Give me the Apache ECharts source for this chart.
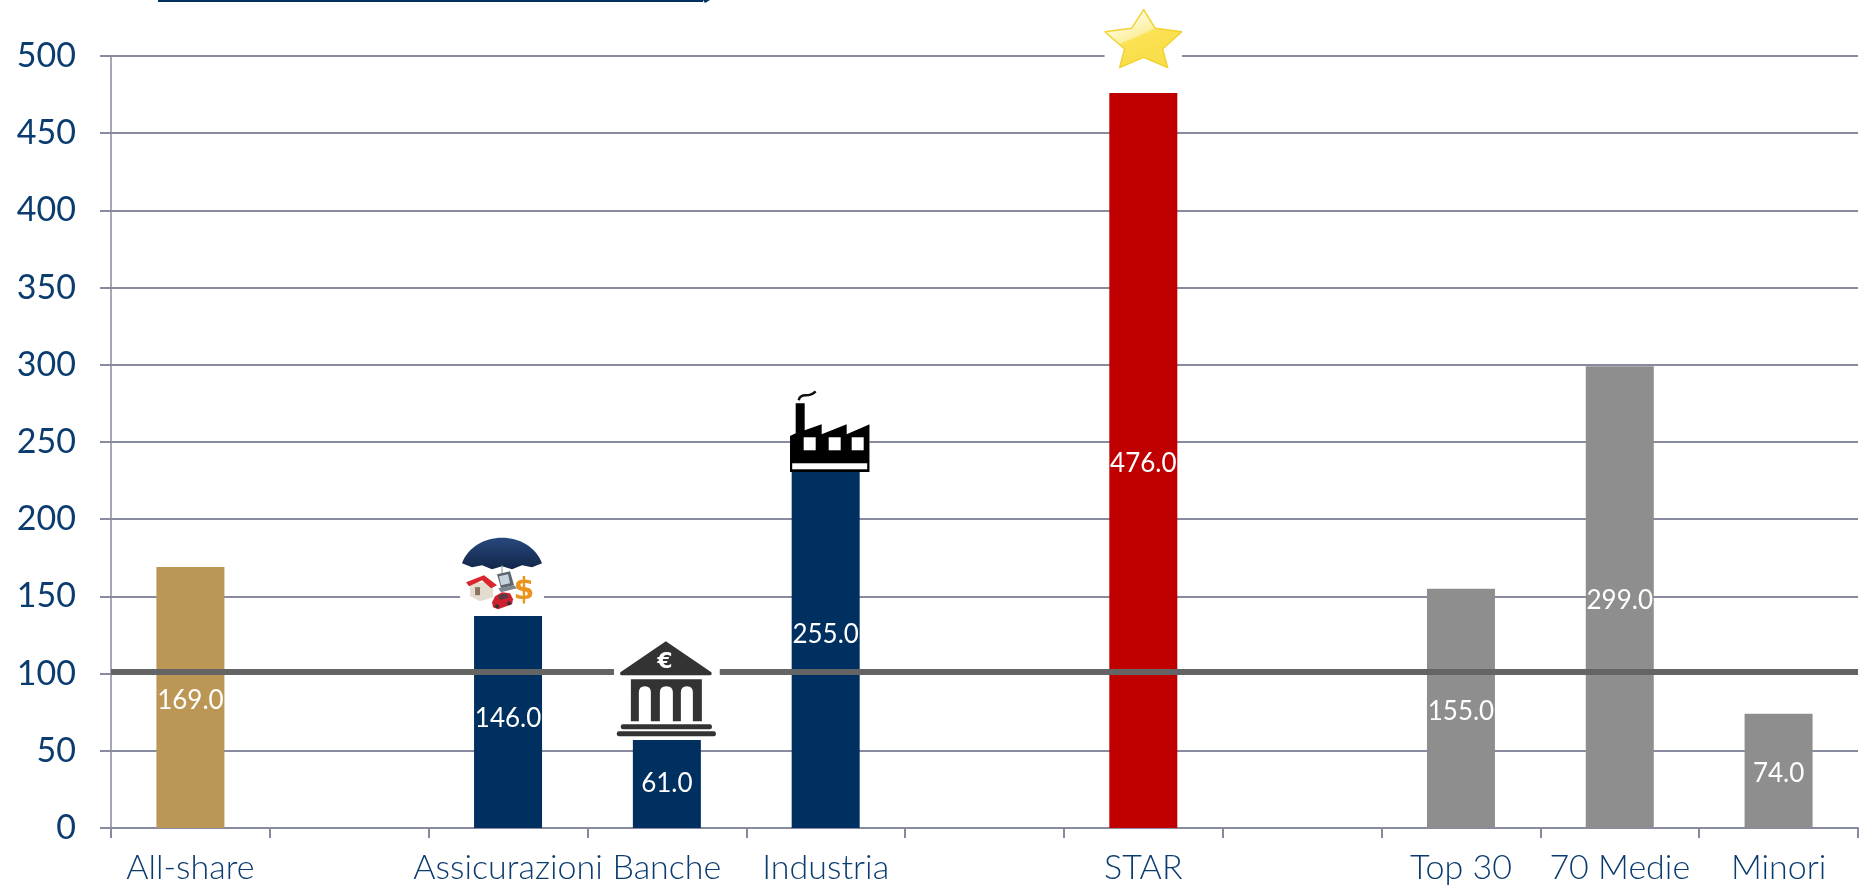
<!DOCTYPE html>
<html>
<head>
<meta charset="utf-8">
<title>Indici</title>
<style>
  html, body { margin: 0; padding: 0; background: #fff; }
  #chart { width: 1860px; height: 885px; }
</style>
<script src="https://cdn.jsdelivr.net/npm/echarts@6/dist/echarts.min.js"></script>
</head>
<body>
<div id="chart"></div>
<script>
// dati
var categories = ['All-share', '', 'Assicurazioni', 'Banche', 'Industria', '', 'STAR', '', 'Top 30', '70 Medie', 'Minori'];
var values = [169, null, 146, 61, 255, null, 476, null, 155, 299, 74];
var referenceLevel = [101];
var yTicks = { min: 0, max: 500, step: 50 };

var barColors = ['#BB9655', null, '#00305F', '#00305F', '#00305F', null, '#C00000', null, '#8E8E8E', '#8E8E8E', '#8E8E8E'];
var labelColor = '#0B3C6F';
var gridColor = '#888BA0';
var fontName = 'Lato';

function svgIcon(w, h, body) {
  var svg = '<svg xmlns="http://www.w3.org/2000/svg" width="' + w + '" height="' + h + '" viewBox="0 0 ' + w + ' ' + h + '">' +
    '<rect width="' + w + '" height="' + h + '" fill="#fff"/>' + body + '</svg>';
  return 'image://data:image/svg+xml;charset=utf-8,' + encodeURIComponent(svg);
}

var umbrella = svgIcon(84, 86,
  '<defs><linearGradient id="u" x1="0" y1="0" x2="0" y2="1"><stop offset="0" stop-color="#27497c"/><stop offset="1" stop-color="#12264a"/></linearGradient></defs>' +
  '<path d="M2 33C8 17 24 7.5 42 7.5S76 17 82 33L72 37 62 35 52 39 42 36 32 39 22 35 12 37Z" fill="url(#u)"/>' +
  '<path d="M42 35V46" stroke="#8a8f98" stroke-width="1"/>' +
  '<path d="M37 44l13-3 4 14-13 3Z" fill="#5d6670"/><path d="M39 46l9-2 2 9-9 2Z" fill="#c7d3dc"/><path d="M38 58l16-3 3 3-16 4Z" fill="#7d8790"/>' +
  '<path d="M10 52H33V67L20 71 10 66Z" fill="#e4dccf"/><path d="M6 52L24 45 37 55 31 58 22 50 9 56Z" fill="#d8262c"/><rect x="15" y="57" width="5" height="8" fill="#8a7460"/>' +
  '<path d="M32 72L35 66 42 62 50 63 53 69 52 74 38 79 33 77Z" fill="#cf2030"/><path d="M38 65l8-2 3 4-9 3Z" fill="#5b3a44"/>' +
  '<circle cx="37" cy="76" r="2" fill="#333"/><circle cx="49" cy="73" r="2" fill="#333"/>' +
  '<text x="64" y="69" text-anchor="middle" font-family="DejaVu Sans" font-weight="bold" font-size="30" fill="#E8941E">$</text>');

var bank = svgIcon(106, 100,
  '<path d="M52 1L97.5 32Q98.5 35 96 35H8Q5.5 35 6.5 32Z" fill="#333"/>' +
  '<text x="51" y="28" text-anchor="middle" font-family="DejaVu Sans" font-weight="bold" font-size="22" fill="#fff">€</text>' +
  '<path fill-rule="evenodd" fill="#333" d="M17 39H88V81H17ZM25 81H37V52Q37 46 31 46T25 52ZM46 81H59V52Q59 46 52.5 46T46 52ZM67 81H79V52Q79 46 73 46T67 52Z"/>' +
  '<rect x="7" y="84" width="91" height="5" rx="2" fill="#333"/><rect x="3" y="91" width="99" height="5" rx="2" fill="#333"/>');

var factory = svgIcon(80, 82,
  '<path d="M0 46L6 43V13H15V40L32 34V44L57 34V44L80 34V82H0Z" fill="#000"/>' +
  '<rect x="14" y="47" width="12" height="13" fill="#fff"/><rect x="39" y="47" width="12" height="13" fill="#fff"/><rect x="62" y="47" width="12" height="13" fill="#fff"/>' +
  '<rect x="2.5" y="73" width="75" height="6" fill="#fff"/>' +
  '<path d="M9 10Q10 5 16 5T26 1" fill="none" stroke="#111" stroke-width="2.4"/>');

var star = svgIcon(78, 70,
  '<defs><linearGradient id="s" x1="0.25" y1="0.1" x2="0.6" y2="0.7"><stop offset="0" stop-color="#FFFDE8"/><stop offset="0.55" stop-color="#FBF0A0"/><stop offset="0.6" stop-color="#FBE255"/><stop offset="1" stop-color="#FADF4C"/></linearGradient></defs>' +
  '<path d="M39.3 4.5L51 23.3 77.5 26.7 58.3 44 63.3 62.5 39.3 52.3 15.3 62.5 20.3 44 .5 26.7 27.3 23.3Z" fill="url(#s)" stroke="#F2D230" stroke-width="1.5" stroke-linejoin="round"/>');

// icone ancorate alla cima della barra: immagine, dimensione, scostamento
var icons = [
  { index: 2, symbol: umbrella, size: [84, 86], offset: [-6, -29.4] },
  { index: 3, symbol: bank, size: [106, 100], offset: [0, -43.6] },
  { index: 4, symbol: factory, size: [80, 82], offset: [4, -3] },
  { index: 6, symbol: star, size: [78, 70], offset: [0, -53] }
];

var chart = echarts.init(document.getElementById('chart'));

chart.setOption({
  animation: false,
  grid: { left: 111, right: 2, top: 56, bottom: 57, containLabel: false },
  xAxis: {
    type: 'category',
    data: categories,
    axisLine: { lineStyle: { color: gridColor, width: 2 } },
    axisTick: { show: true, alignWithLabel: false, interval: 0, length: 10, lineStyle: { color: gridColor, width: 2 } },
    axisLabel: { interval: 0, margin: 23, color: labelColor, fontFamily: fontName, fontSize: 34, fontWeight: 300 }
  },
  yAxis: {
    type: 'value',
    min: yTicks.min,
    max: yTicks.max,
    interval: yTicks.step,
    axisLine: { show: true, lineStyle: { color: gridColor, width: 1.5 } },
    axisTick: { show: true, length: 11, lineStyle: { color: gridColor, width: 2 } },
    axisLabel: { margin: 35, color: labelColor, fontFamily: fontName, fontSize: 34, fontWeight: 400 },
    splitLine: { show: true, lineStyle: { color: gridColor, width: 2 } }
  },
  series: [
    {
      type: 'bar',
      barWidth: 68,
      z: 2,
      data: values.map(function (v, i) {
        return { value: v, itemStyle: { color: barColors[i] } };
      }),
      label: {
        show: true,
        position: 'inside',
        offset: [0, 3],
        color: '#fff',
        fontFamily: fontName,
        fontSize: 26,
        fontWeight: 400,
        formatter: function (p) { return p.value.toFixed(1); }
      },
      markLine: {
        silent: true,
        symbol: 'none',
        label: { show: false },
        lineStyle: { color: '#646464', width: 6, type: 'solid' },
        data: [{ yAxis: referenceLevel[0] }]
      }
    },
    {
      type: 'scatter',
      z: 10,
      clip: false,
      silent: true,
      itemStyle: { opacity: 1 },
      data: icons.map(function (ic) {
        return {
          value: [ic.index, values[ic.index]],
          symbol: ic.symbol,
          symbolSize: ic.size,
          symbolOffset: ic.offset
        };
      })
    }
  ],
  graphic: [
    { type: 'rect', shape: { x: 158, y: 0, width: 545, height: 2 }, style: { fill: '#00305F' } },
    { type: 'polygon', shape: { points: [[703, 0], [710, 0], [705, 3]] }, style: { fill: '#00305F' } }
  ]
});
</script>
</body>
</html>
